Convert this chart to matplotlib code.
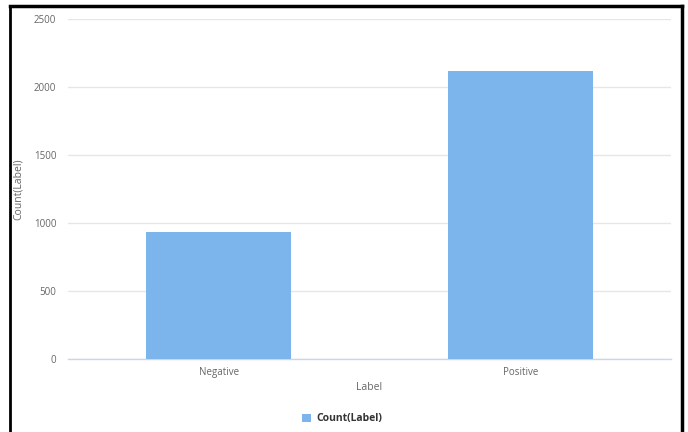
import matplotlib
matplotlib.use("Agg")
import matplotlib.pyplot as plt
from matplotlib.lines import Line2D

# data
labels = ["Negative", "Positive"]
counts = [934, 2118]
y_ticks = [0, 500, 1000, 1500, 2000, 2500]

plt.rcParams['font.family'] = ['Open Sans', 'DejaVu Sans']

fig = plt.figure(figsize=(6.88, 4.32), dpi=100)
ax = fig.add_axes([68/688, 73/432, 603/688, 340/432])

x = range(len(labels))
bars = ax.bar(x, counts, width=0.48, color="#7cb5ec", label="Count(Label)", zorder=3)

ax.set_xlim(-0.5, 1.5)
ax.set_ylim(0, 2500)
ax.set_yticks(y_ticks)
ax.set_yticklabels([str(v) for v in y_ticks])
ax.set_xticks(list(x))
ax.set_xticklabels(labels)
ax.grid(axis="y", color="#e6e6e6", linewidth=1, zorder=0)
ax.set_axisbelow(True)
for s in ["top", "right", "left"]:
    ax.spines[s].set_visible(False)
ax.spines["bottom"].set_color("#ccd6eb")
ax.spines["bottom"].set_linewidth(1)
ax.tick_params(axis="y", length=0, pad=8.5, labelsize=7, labelcolor="#666666")
ax.tick_params(axis="x", length=0, pad=6, labelsize=7, labelcolor="#666666")
ax.set_xlabel("Label", fontsize=7.5, color="#666666", labelpad=3)
ax.set_ylabel("Count(Label)", fontsize=7.5, color="#666666")
ax.yaxis.set_label_coords(-44/603, 0.5)

fig.legend(handles=[bars], loc="center", bbox_to_anchor=(342/688, 13/432),
           frameon=False, prop={"weight": "bold", "size": 7.5},
           handlelength=0.9, handleheight=0.9, handletextpad=0.5, labelcolor="#333333")

# screenshot frame (black border on top, left, right)
fig.add_artist(Line2D([10/688, 10/688], [0, 1 - 6/432], transform=fig.transFigure, color="black", linewidth=2))
fig.add_artist(Line2D([682/688, 682/688], [0, 1 - 6/432], transform=fig.transFigure, color="black", linewidth=2.5))
fig.add_artist(Line2D([10/688, 682/688], [1 - 6/432, 1 - 6/432], transform=fig.transFigure, color="black", linewidth=2.5))

fig.savefig("out.png", dpi=100)
